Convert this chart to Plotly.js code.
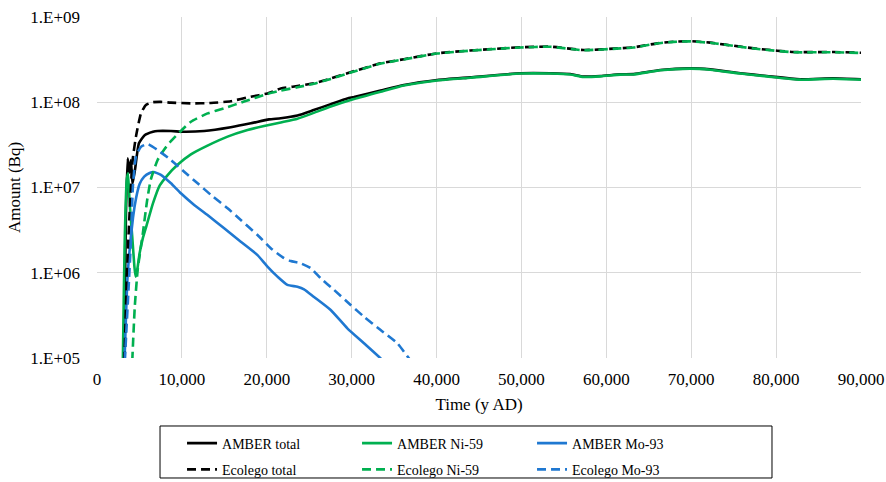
<!DOCTYPE html>
<html>
<head>
<meta charset="utf-8">
<script src="https://cdn.plot.ly/plotly-3.0.1.min.js"></script>
<style>html,body{margin:0;padding:0;background:#fff;}#chart{width:886px;height:482px;}</style>
</head>
<body>
<div id="chart"></div>
<script>
// ---- Data ----
const amberTotalX = [3000, 3180, 3410, 3610, 3820, 4000, 4180, 4470, 4940, 5610, 6590, 7140, 8710, 10270, 12620, 15760, 18120, 20270, 21650, 23610, 25530, 27530, 29490, 30270, 33410, 36150, 40080, 43990, 49880, 53400, 55760, 57300, 59300, 61650, 63220, 66350, 69880, 72240, 75770, 78900, 82820, 86740, 90000];
const amberTotalY = [3e4, 1e5, 5e6, 2.2e7, 1.5e7, 2.1e7, 1.1e7, 1.6e7, 3.3e7, 4.1e7, 4.5e7, 4.6e7, 4.6e7, 4.5e7, 4.6e7, 5.1e7, 5.66e7, 6.3e7, 6.5e7, 7.0e7, 8.1e7, 9.5e7, 1.11e8, 1.15e8, 1.37e8, 1.59e8, 1.82e8, 1.96e8, 2.19e8, 2.19e8, 2.14e8, 2.0e8, 2.03e8, 2.13e8, 2.14e8, 2.39e8, 2.5e8, 2.43e8, 2.19e8, 2.03e8, 1.86e8, 1.91e8, 1.86e8];

const amberNiX = [2950, 3050, 3250, 3500, 3650, 3850, 4150, 4400, 4550, 4750, 5020, 5380, 5800, 6590, 7380, 8320, 9490, 11060, 13020, 15380, 17730, 19680, 21650, 23610, 25530, 27530, 30270, 33410, 36150, 40080, 43990, 49880, 53400, 55760, 57300, 59300, 61650, 63220, 66350, 69880, 72240, 75770, 78900, 82820, 86740, 90000];
const amberNiY = [3e4, 1e5, 2e6, 1.2e7, 1.47e7, 6.5e6, 2.65e6, 1.2e6, 9.0e5, 1.1e6, 1.69e6, 2.5e6, 3.47e6, 6.5e6, 1.05e7, 1.4e7, 1.85e7, 2.45e7, 3.1e7, 3.95e7, 4.72e7, 5.27e7, 5.8e7, 6.4e7, 7.5e7, 8.9e7, 1.09e8, 1.33e8, 1.57e8, 1.8e8, 1.94e8, 2.17e8, 2.17e8, 2.12e8, 1.98e8, 2.01e8, 2.11e8, 2.12e8, 2.37e8, 2.48e8, 2.41e8, 2.17e8, 2.01e8, 1.84e8, 1.89e8, 1.84e8];

const amberMoX = [3000, 3250, 3600, 4250, 4600, 5020, 5560, 6200, 6650, 7530, 8710, 9880, 11450, 13020, 14980, 16940, 18910, 20080, 21260, 22430, 23610, 24390, 25570, 27530, 29490, 31450, 33410, 34500];
const amberMoY = [3e4, 1e5, 9e5, 4.5e6, 7.5e6, 1.1e7, 1.34e7, 1.48e7, 1.52e7, 1.41e7, 1.12e7, 8.55e6, 6.24e6, 4.76e6, 3.32e6, 2.31e6, 1.61e6, 1.18e6, 9.0e5, 7.2e5, 6.86e5, 6.4e5, 5.2e5, 3.66e5, 2.23e5, 1.49e5, 9.9e4, 7.5e4];

const ecoTotalX = [3050, 3240, 3500, 3800, 4200, 4590, 5180, 5760, 6550, 7530, 8710, 11060, 13410, 15760, 18120, 20080, 21650, 23610, 25530, 27530, 29490, 33410, 36150, 40080, 43990, 49880, 53400, 57300, 61650, 63220, 65970, 67920, 69880, 72240, 75770, 78120, 82040, 86740, 90000];
const ecoTotalY = [3e4, 1e5, 8e5, 4.2e6, 2.1e7, 3.95e7, 7.4e7, 9.3e7, 1.0e8, 1.01e8, 9.9e7, 9.7e7, 9.8e7, 1.03e8, 1.16e8, 1.27e8, 1.45e8, 1.55e8, 1.67e8, 1.9e8, 2.19e8, 2.86e8, 3.2e8, 3.75e8, 4.05e8, 4.41e8, 4.49e8, 4.1e8, 4.3e8, 4.41e8, 4.91e8, 5.13e8, 5.2e8, 5.0e8, 4.49e8, 4.21e8, 3.88e8, 3.88e8, 3.81e8];

const ecoNiX = [4000, 4150, 4450, 4800, 5400, 5900, 6350, 7140, 7920, 8710, 9880, 11060, 13020, 14980, 17330, 20080, 21650, 23610, 25530, 27530, 29490, 33410, 36150, 40080, 43990, 49880, 53400, 57300, 61650, 63220, 65970, 67920, 69880, 72240, 75770, 78120, 82040, 86740, 90000];
const ecoNiY = [3e4, 9e4, 4e5, 1.1e6, 2.9e6, 7e6, 1.25e7, 2.1e7, 2.8e7, 3.5e7, 4.6e7, 5.9e7, 7.4e7, 8.5e7, 1.02e8, 1.25e8, 1.37e8, 1.5e8, 1.65e8, 1.88e8, 2.17e8, 2.84e8, 3.18e8, 3.73e8, 4.03e8, 4.39e8, 4.47e8, 4.08e8, 4.28e8, 4.39e8, 4.89e8, 5.11e8, 5.18e8, 4.98e8, 4.47e8, 4.19e8, 3.86e8, 3.86e8, 3.79e8];

const ecoMoX = [3100, 3300, 3710, 4000, 4240, 4590, 5180, 5970, 7140, 8710, 10270, 11850, 13410, 15380, 16940, 18910, 20470, 22040, 22820, 24000, 25180, 26350, 27920, 29880, 31450, 33410, 35380, 36740, 37500];
const ecoMoY = [3e4, 1e5, 6.3e5, 2.4e6, 1.07e7, 2.3e7, 3.0e7, 3.24e7, 2.75e7, 2.1e7, 1.53e7, 1.12e7, 8.2e6, 5.7e6, 4.16e6, 2.77e6, 1.94e6, 1.48e6, 1.37e6, 1.29e6, 1.13e6, 8.6e5, 6.3e5, 4.19e5, 3.05e5, 2.13e5, 1.49e5, 9.9e4, 8e4];

const yTickVals = [1e5, 1e6, 1e7, 1e8, 1e9];
const yTickText = ['1.E+05', '1.E+06', '1.E+07', '1.E+08', '1.E+09'];
const seriesNames = ['AMBER total', 'AMBER Ni-59', 'AMBER Mo-93', 'Ecolego total', 'Ecolego Ni-59', 'Ecolego Mo-93'];

// ---- Styles ----
const BLACK = '#000000', GREEN = '#00b050', BLUE = '#1f78d1';
const LW = 2.6;
const DASH = '9px,5px';
const FONT = '"Liberation Serif", "Times New Roman", Times, serif';

function tr(x, y, name, color, dash, legend) {
  return {
    x: x, y: y, name: name, type: 'scatter', mode: 'lines',
    line: {color: color, width: LW, dash: dash, shape: 'spline', smoothing: 0.5},
    legend: legend, hoverinfo: 'skip'
  };
}

const data = [
  tr(amberTotalX, amberTotalY, seriesNames[0], BLACK, 'solid', 'legend'),
  tr(amberNiX, amberNiY, seriesNames[1], GREEN, 'solid', 'legend'),
  tr(amberMoX, amberMoY, seriesNames[2], BLUE, 'solid', 'legend'),
  tr(ecoTotalX, ecoTotalY, seriesNames[3], BLACK, DASH, 'legend2'),
  tr(ecoNiX, ecoNiY, seriesNames[4], GREEN, DASH, 'legend2'),
  tr(ecoMoX, ecoMoY, seriesNames[5], BLUE, DASH, 'legend2')
];

const legendCommon = {
  orientation: 'h', xanchor: 'left', yanchor: 'top',
  entrywidth: 130, entrywidthmode: 'pixels',
  font: {family: FONT, size: 14, color: '#000'},
  bgcolor: 'rgba(0,0,0,0)', borderwidth: 0, itemclick: false, itemdoubleclick: false
};

const layout = {
  width: 886, height: 482,
  margin: {l: 97, r: 25, t: 17, b: 124, autoexpand: false},
  paper_bgcolor: '#ffffff', plot_bgcolor: '#ffffff',
  font: {family: FONT, size: 17, color: '#000'},
  showlegend: true,
  xaxis: {
    range: [0, 90000], dtick: 10000, tick0: 0, tickformat: ',d',
    showgrid: true, gridcolor: '#d9d9d9', gridwidth: 1,
    zeroline: false, showline: false, ticks: '',
    ticklabelstandoff: 9,
    tickfont: {family: FONT, size: 17, color: '#000'},
    title: {text: 'Time (y AD)', font: {family: FONT, size: 17, color: '#000'}, standoff: 10}
  },
  yaxis: {
    type: 'log', range: [5, 9],
    tickvals: yTickVals, ticktext: yTickText,
    showgrid: true, gridcolor: '#d9d9d9', gridwidth: 1,
    zeroline: false, showline: false, ticks: '',
    ticklabelstandoff: 16,
    tickfont: {family: FONT, size: 17, color: '#000'},
    title: {text: 'Amount (Bq)', font: {family: FONT, size: 17, color: '#000'}, standoff: 5}
  },
  legend: Object.assign({}, legendCommon, {x: 0.1113, y: -0.2038}),
  legend2: Object.assign({}, legendCommon, {x: 0.1113, y: -0.2809}),
  shapes: [
    {type: 'rect', xref: 'paper', yref: 'paper', x0: 0.0825, x1: 0.8835, y0: -0.1994, y1: -0.3519,
     line: {color: '#000', width: 1}, fillcolor: 'rgba(0,0,0,0)', layer: 'above'}
  ]
};

Plotly.newPlot('chart', data, layout, {staticPlot: true, displayModeBar: false});
</script>
</body>
</html>
